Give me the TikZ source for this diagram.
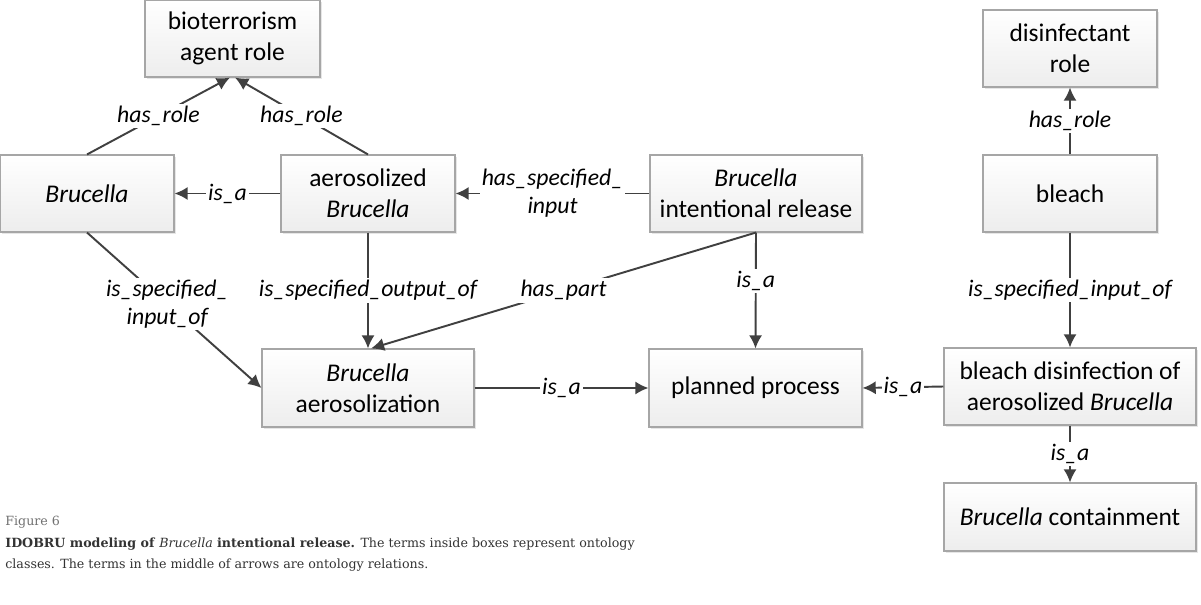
\documentclass[tikz,border=0pt]{standalone}
\usepackage{fontspec}
\setmainfont{Carlito}
\newfontfamily\capfont{DejaVu Serif}
\usepackage{tikz}
\usetikzlibrary{arrows.meta}
\usetikzlibrary{shadows}
\definecolor{linegray}{HTML}{404040}
\definecolor{boxline}{HTML}{A6A6A6}
\definecolor{capgray}{HTML}{333333}
\definecolor{figgray}{HTML}{707070}

\begin{document}
\begin{tikzpicture}[box/.style={draw=boxline,line width=0.6pt,top color=white,bottom color=gray!14,drop shadow={opacity=0.2,shadow xshift=1pt,shadow yshift=-1pt},align=center,inner sep=0pt,font=\fontsize{14.5}{17.5}\selectfont},
rel/.style={fill=white,inner sep=1.2pt,align=center,font=\fontsize{13.5}{16}\selectfont\itshape},
link/.style={draw=linegray,line width=1.1pt,-{Latex[length=7.5pt,width=7.5pt]}}]
\useasboundingbox (0,0) rectangle (24.02,-12.1);
\node [box,minimum width=3.5cm,minimum height=1.54cm] (bio) at (4.65,-0.77) {bioterrorism\\agent role};
\node [box,minimum width=3.48cm,minimum height=1.54cm] (bru) at (1.74,-3.87) {\textit{Brucella}};
\node [box,minimum width=3.48cm,minimum height=1.54cm] (aero) at (7.36,-3.87) {aerosolized\\\textit{Brucella}};
\node [box,minimum width=4.24cm,minimum height=1.54cm] (rel) at (15.12,-3.87) {\textit{Brucella}\\intentional release};
\node [box,minimum width=4.24cm,minimum height=1.56cm] (aerz) at (7.36,-7.76) {\textit{Brucella}\\aerosolization};
\node [box,minimum width=4.26cm,minimum height=1.56cm] (plan) at (15.11,-7.76) {planned process};
\node [box,minimum width=3.48cm,minimum height=1.54cm] (dis) at (21.4,-0.97) {disinfectant\\role};
\node [box,minimum width=3.48cm,minimum height=1.54cm] (bleach) at (21.4,-3.87) {bleach};
\node [box,minimum width=5.04cm,minimum height=1.54cm] (bdis) at (21.4,-7.73) {bleach disinfection of\\aerosolized \textit{Brucella}};
\node [box,minimum width=5.04cm,minimum height=1.36cm] (cont) at (21.4,-10.34) {\textit{Brucella} containment};
% relations on the left
\draw [link] (bru.north) -- ([xshift=-0.05cm]bio.south) node [rel,midway] {has\_role};
\draw [link] (aero.north) -- ([xshift=0.05cm]bio.south) node [rel,midway] {has\_role};
\draw [link] (aero.west) -- (bru.east) node [rel,midway] {is\_a};
\draw [link] (rel.west) -- (aero.east) node [rel,midway] {has\_specified\_\\input};
\draw [link] (bru.south) -- (aerz.west) node [rel,pos=0.46] {is\_specified\_\\input\_of};
\draw [link] (aero.south) -- (aerz.north) node [rel,midway] {is\_specified\_output\_of};
\draw [link] (rel.south) -- ([xshift=0.06cm]aerz.north) node [rel,midway] {has\_part};
\draw [link] (rel.south) -- (plan.north) node [rel,pos=0.42] {is\_a};
\draw [link] (aerz.east) -- (plan.west) node [rel,midway] {is\_a};
% relations on the right
\draw [link] (bdis.west) -- (plan.east) node [rel,midway] {is\_a};
\draw [link] (bleach.north) -- (dis.south) node [rel,midway] {has\_role};
\draw [link] (bleach.south) -- (bdis.north) node [rel,midway] {is\_specified\_input\_of};
\draw [link] (bdis.south) -- (cont.north) node [rel,midway] {is\_a};
% caption
\node [anchor=base west,inner sep=0pt,text=figgray,font=\capfont\fontsize{7.2}{11.9}\selectfont] (fig) at (0.1,-10.5) {Figure 6};
\node [anchor=base west,inner sep=0pt,align=left,text=capgray,font=\capfont\fontsize{7.2}{11.9}\selectfont] (cap) at (0.1,-11.36) {\textbf{IDOBRU modeling of} \textit{Brucella} \textbf{intentional release.} The terms inside boxes represent ontology\\classes. The terms in the middle of arrows are ontology relations.};
\end{tikzpicture}
\end{document}
